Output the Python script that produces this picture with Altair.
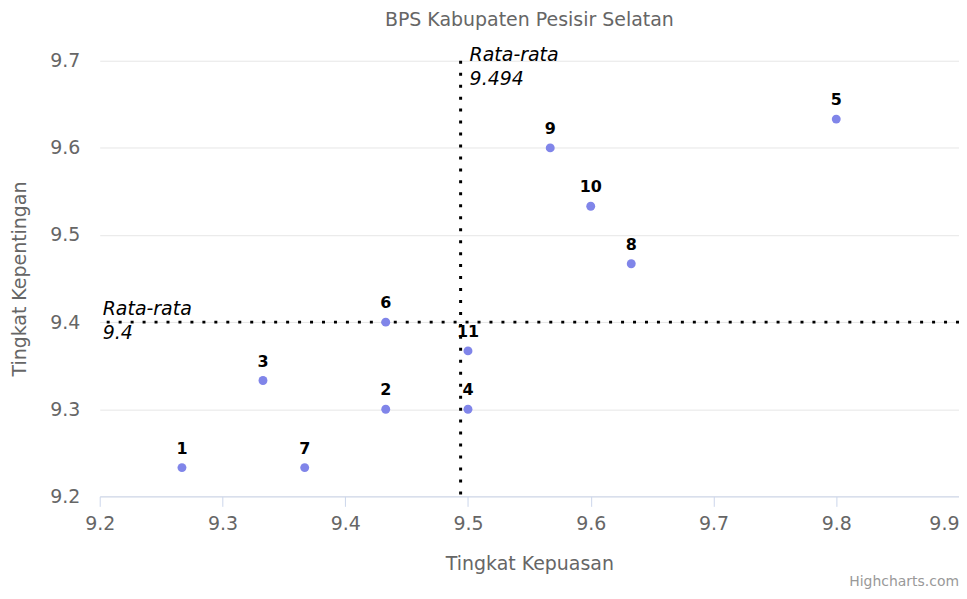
import altair as alt
import pandas as pd

# Data
labels = ["1", "2", "3", "4", "5", "6", "7", "8", "9", "10", "11"]
kepuasan = [9.267, 9.433, 9.333, 9.5, 9.8, 9.433, 9.367, 9.633, 9.567, 9.6, 9.5]
kepentingan = [9.233, 9.3, 9.333, 9.3, 9.633, 9.4, 9.233, 9.467, 9.6, 9.533, 9.367]

mean_x = [9.494]
mean_y = [9.4]
mean_x_label = ["Rata-rata\n9.494"]
mean_y_label = ["Rata-rata\n9.4"]

x_domain = [9.2, 9.9]
y_domain = [9.2, 9.7]
x_ticks = [9.2, 9.3, 9.4, 9.5, 9.6, 9.7, 9.8, 9.9]
y_ticks = [9.2, 9.3, 9.4, 9.5, 9.6, 9.7]

FONT = "DejaVu Sans"

df = pd.DataFrame({"label": labels, "x": kepuasan, "y": kepentingan})
dfx = pd.DataFrame({"x": mean_x, "y": [y_domain[1]], "t": mean_x_label})
dfy = pd.DataFrame({"y": mean_y, "x": [x_domain[0]], "t": mean_y_label})
credit = pd.DataFrame({"t": ["Highcharts.com"]})

xs = alt.Scale(domain=x_domain, nice=False, zero=False)
ys = alt.Scale(domain=y_domain, nice=False, zero=False)

xenc = alt.X("x:Q", scale=xs, title="Tingkat Kepuasan",
             axis=alt.Axis(values=x_ticks, format=".1f",
                           labelAlign=alt.condition("datum.value >= 9.89", alt.value("right"), alt.value("center"))))
yenc = alt.Y("y:Q", scale=ys, title="Tingkat Kepentingan",
             axis=alt.Axis(values=y_ticks, format=".1f"))

points = alt.Chart(df).mark_circle(size=80, color="#8085e9", opacity=1).encode(
    x=xenc, y=yenc)

text = alt.Chart(df).mark_text(
    dy=-19, fontWeight="bold", fontSize=16, color="#000000", font=FONT
).encode(x="x:Q", y="y:Q", text="label:N")

vrule = alt.Chart(dfx).mark_rule(
    color="#000000", strokeWidth=3, strokeDash=[3, 9]
).encode(x="x:Q")

hrule = alt.Chart(dfy).mark_rule(
    color="#000000", strokeWidth=3, strokeDash=[3, 9]
).encode(y="y:Q")

vlabel = alt.Chart(dfx).mark_text(
    align="left", baseline="middle", dx=9, dy=-6, fontStyle="italic",
    fontSize=19, lineBreak="\n", lineHeight=24, color="#000000", font=FONT
).encode(x="x:Q", y="y:Q", text="t:N")

hlabel = alt.Chart(dfy).mark_text(
    align="left", baseline="middle", dx=3, dy=-13, fontStyle="italic",
    fontSize=19, lineBreak="\n", lineHeight=24, color="#000000", font=FONT
).encode(x="x:Q", y="y:Q", text="t:N")

credit_text = alt.Chart(credit).mark_text(
    align="right", baseline="bottom", fontSize=14, color="#999999", font=FONT
).encode(x=alt.value(862), y=alt.value(530), text="t:N")

chart = alt.layer(
    hrule, vrule, points, text, vlabel, hlabel, credit_text
).properties(
    width=862, height=437,
    title=alt.TitleParams("BPS Kabupaten Pesisir Selatan", fontSize=19,
                          color="#666666", font=FONT, fontWeight="normal",
                          anchor="middle", frame="group", offset=16),
    padding={"left": 92, "top": 52, "right": 0, "bottom": 92},
    autosize=alt.AutoSizeParams(type="none"),
).configure_view(stroke=None).configure_axisY(
    grid=True, gridColor="#e6e6e6", domain=False, ticks=False,
    labelColor="#666666", labelFontSize=19, labelFont=FONT, labelPadding=20,
    titleColor="#666666", titleFontSize=19, titleFont=FONT, titleFontWeight="normal",
    titlePadding=20,
).configure_axisX(
    grid=False, domainColor="#ccd6eb", tickColor="#ccd6eb", tickSize=10,
    labelColor="#666666", labelFontSize=19, labelFont=FONT, labelPadding=8,
    titleColor="#666666", titleFontSize=19, titleFont=FONT, titleFontWeight="normal",
    titlePadding=21, labelFlush=False,
)

chart.save("out.html", embed_options={"renderer": "svg", "actions": False})
